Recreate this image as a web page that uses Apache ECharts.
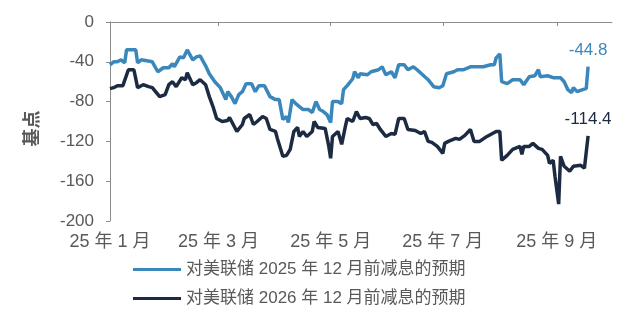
<!DOCTYPE html>
<html>
<head>
<meta charset="utf-8">
<script src="https://cdn.jsdelivr.net/npm/echarts@6/dist/echarts.min.js"></script>
<style>
html,body{margin:0;padding:0;background:#fff;}
#chart{width:632px;height:324px;}
</style>
</head>
<body>
<div id="chart"></div>
<script>
// Series names
const seriesNames = ['对美联储 2025 年 12 月前减息的预期', '对美联储 2026 年 12 月前减息的预期'];
// Days since 2025-01-01 and values (basis points)
const blueDays = [0,2,4,6,8,9,14,15,17,20,23,26,29,32,34,35,38,40,42,45,47,49,52,54,57,60,63,64,66,68,70,72,74,77,79,81,84,87,90,92,94,96,97,99,101,103,105,108,110,112,114,116,118,120,121,124,126,127,129,132,133,135,136,140,142,146,148,150,153,155,157,160,162,165,167,170,173,176,179,181,183,187,189,192,196,197,200,203,207,209,210,212,213,216,219,223,225,228,231,233,234,238,241,245,247,249,251,252,254,257,259,260];
const blueVals = [-43,-40,-40,-38,-41,-28,-28,-41,-38,-39,-40,-50,-46,-46,-42,-45,-35,-36,-28,-38,-35,-34,-44,-52,-60,-66,-78,-70,-75,-82,-73,-70,-62,-62,-70,-64,-64,-75,-78,-78,-98,-95,-101,-78,-82,-85,-88,-88,-91,-80,-88,-90,-93,-101,-80,-80,-82,-68,-64,-57,-50,-56,-52,-53,-50,-48,-45,-53,-50,-56,-43,-43,-48,-45,-48,-53,-58,-65,-66,-64,-52,-50,-48,-48,-45,-43,-45,-45,-43,-43,-36,-32,-60,-62,-58,-58,-63,-55,-54,-48,-55,-54,-56,-56,-60,-68,-71,-66,-70,-68,-67,-44.8];
const navyDays = [0,2,4,7,8,10,13,15,18,21,23,27,30,32,34,36,39,41,42,45,47,49,52,54,56,58,61,64,65,67,69,72,73,76,78,80,83,85,87,90,91,94,96,98,100,102,103,105,107,110,111,113,117,119,120,121,124,126,128,129,132,134,136,139,141,143,145,147,148,150,153,155,157,160,162,166,169,171,173,175,178,181,182,184,188,190,193,196,197,198,201,205,208,210,212,213,216,219,223,224,225,228,230,233,235,238,239,241,242,244,245,247,250,252,256,258,260];
const navyVals = [-67,-66,-64,-64,-66,-48,-48,-66,-63,-65,-66,-75,-73,-63,-60,-65,-56,-58,-51,-63,-61,-58,-63,-75,-85,-97,-100,-99,-96,-103,-110,-103,-97,-93,-103,-100,-95,-97,-108,-110,-117,-135,-134,-128,-110,-106,-115,-110,-115,-110,-100,-106,-107,-125,-137,-115,-110,-123,-105,-97,-100,-90,-97,-96,-97,-103,-102,-108,-106,-115,-112,-113,-97,-97,-108,-109,-112,-110,-120,-121,-125,-132,-122,-120,-117,-118,-114,-108,-107,-120,-120,-115,-112,-110,-110,-139,-134,-128,-125,-133,-125,-125,-122,-127,-128,-134,-142,-139,-155,-183,-135,-145,-150,-145,-144,-147,-114.4];
// Axis range
const startDate = '2025-01-01';
const endDate = '2025-10-01';
const labelMonths = [1,3,5,7,9];

const colors = ['#3a88bb', '#1c2b41'];
const textColor = '#595959';
const axisColor = '#8c8c8c';
const fontFam = "'Liberation Sans', Arial, 'Noto Sans CJK SC', sans-serif";

// Build calendar-day categories
const cats = [];
{
  const d = new Date(startDate + 'T00:00:00Z');
  const end = new Date(endDate + 'T00:00:00Z');
  while (d <= end) {
    cats.push(d.toISOString().slice(0,10));
    d.setUTCDate(d.getUTCDate() + 1);
  }
}
function isLabelDay(v){
  const m = parseInt(v.slice(5,7),10), day = parseInt(v.slice(8,10),10);
  return day === 1 && labelMonths.indexOf(m) >= 0;
}
function makeData(days, vals, color){
  return days.map((d,i) => {
    if (i === days.length - 1) {
      return {value:[d, vals[i]], label:{show:true, position:'top', distance:8, color:color,
        fontSize:17, fontFamily:fontFam, formatter: p => String(vals[i])}};
    }
    return [d, vals[i]];
  });
}

const chart = echarts.init(document.getElementById('chart'));
chart.setOption({
  animation:false,
  grid:{left:110, right:20, top:22, bottom:103},
  legend:{
    orient:'vertical', left:133, top:261, itemGap:12, padding:0,
    icon:'rect', itemWidth:48, itemHeight:3,
    textStyle:{color:textColor, fontSize:17, fontFamily:fontFam},
    data:seriesNames
  },
  xAxis:[{
    type:'category', data:cats, boundaryGap:false, position:'bottom',
    axisLine:{show:false, onZero:false}, axisTick:{show:false},
    axisLabel:{interval:(i,v)=>isLabelDay(v), color:textColor, fontSize:18, fontFamily:fontFam, margin:12,
      formatter:v=>'25 年 ' + parseInt(v.slice(5,7),10) + ' 月'}
  },{
    type:'category', data:cats, boundaryGap:false, position:'top',
    axisLine:{show:true, lineStyle:{color:axisColor, width:1}},
    axisTick:{show:true, inside:true, length:4, interval:(i,v)=>isLabelDay(v), lineStyle:{color:axisColor}},
    axisLabel:{show:false}
  }],
  yAxis:{
    type:'value', min:-200, max:0, interval:40,
    name:'基点', nameLocation:'middle', nameGap:68, nameRotate:90,
    nameTextStyle:{color:textColor, fontSize:18, fontWeight:'bold', fontFamily:fontFam, padding:[0,14,0,0]},
    axisLine:{show:true, lineStyle:{color:axisColor}},
    axisTick:{show:true, length:4, lineStyle:{color:axisColor}},
    splitLine:{show:false},
    axisLabel:{color:textColor, fontSize:17, fontFamily:fontFam, margin:16}
  },
  series:[{
    name:seriesNames[0], type:'line', xAxisIndex:0, data:makeData(blueDays, blueVals, colors[0]),
    showSymbol:true, symbol:'circle', symbolSize:0, color:colors[0],
    lineStyle:{width:3.5, color:colors[0]}
  },{
    name:seriesNames[1], type:'line', xAxisIndex:0, data:makeData(navyDays, navyVals, colors[1]),
    showSymbol:true, symbol:'circle', symbolSize:0, color:colors[1],
    lineStyle:{width:3.5, color:colors[1]}
  }]
});
</script>
</body>
</html>
